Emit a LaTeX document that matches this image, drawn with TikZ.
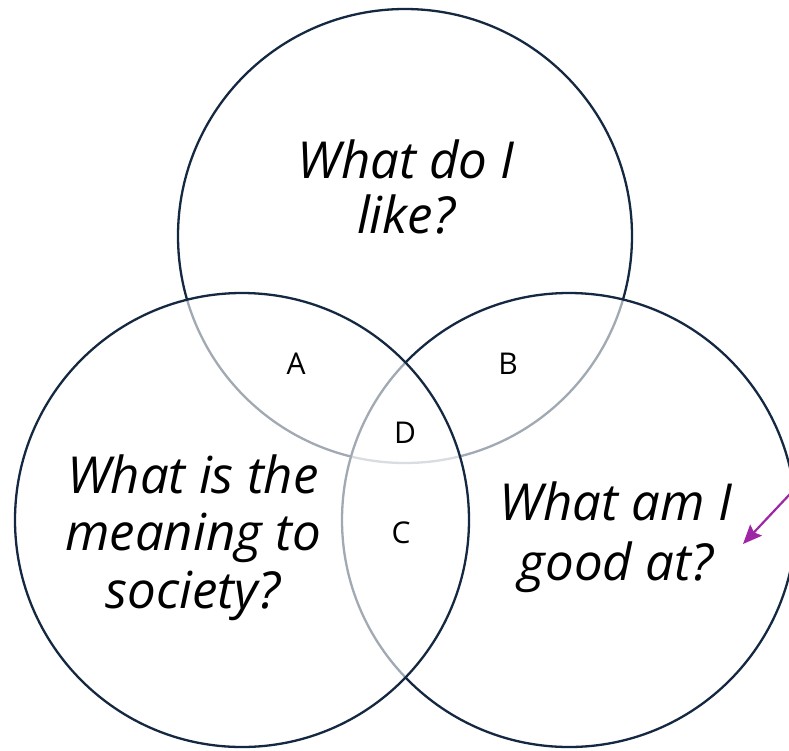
\documentclass[tikz,border=0pt]{standalone}
\usepackage{fontspec}
\setmainfont{Open Sans}
\usetikzlibrary{arrows.meta}
\definecolor{navy}{RGB}{20,40,65}
\definecolor{arrowpurple}{RGB}{158,38,165}
\tikzset{
  venn/.style={circle, draw=navy, line width=2.3pt, fill=white, fill opacity=0.6, minimum size=454pt, inner sep=0pt},
  question/.style={font=\fontsize{51}{58}\selectfont\itshape, text=black, anchor=base, inner sep=0pt},
  region/.style={font=\fontsize{30}{34}\selectfont, text=black, anchor=center, inner sep=0pt},
  pointer/.style={draw=arrowpurple, line width=2.2pt, -{Stealth[length=19pt,width=16pt,inset=3pt]}},
}
\begin{document}
\begin{tikzpicture}[x=1pt,y=-1pt]
  \useasboundingbox (0,0) rectangle (789,750);
  \node[venn] (top)   at (405,236) {};
  \node[venn] (right) at (569,520) {};
  \node[venn] (left)  at (242,520) {};
  % questions
  \node[question] (q1a) at (406,178) {What do I};
  \node[question] (q1b) at (406,233) {like?};
  \node[question] (q2a) at (193,493) {What is the};
  \node[question] (q2b) at (193,550) {meaning to};
  \node[question] (q2c) at (193,608) {society?};
  \node[question] (q3a) at (616,520) {What am I};
  \node[question] (q3b) at (616,580) {good at?};
  % regions
  \node[region] (A) at (296,364) {A};
  \node[region] (B) at (508,364) {B};
  \node[region] (D) at (405,433) {D};
  \node[region] (C) at (401,533) {C};
  % arrow
  \coordinate (arrowstart) at (790,494);
  \coordinate (arrowend) at (743,544);
  \draw[pointer] (arrowstart) -- (arrowend);
\end{tikzpicture}
\end{document}
